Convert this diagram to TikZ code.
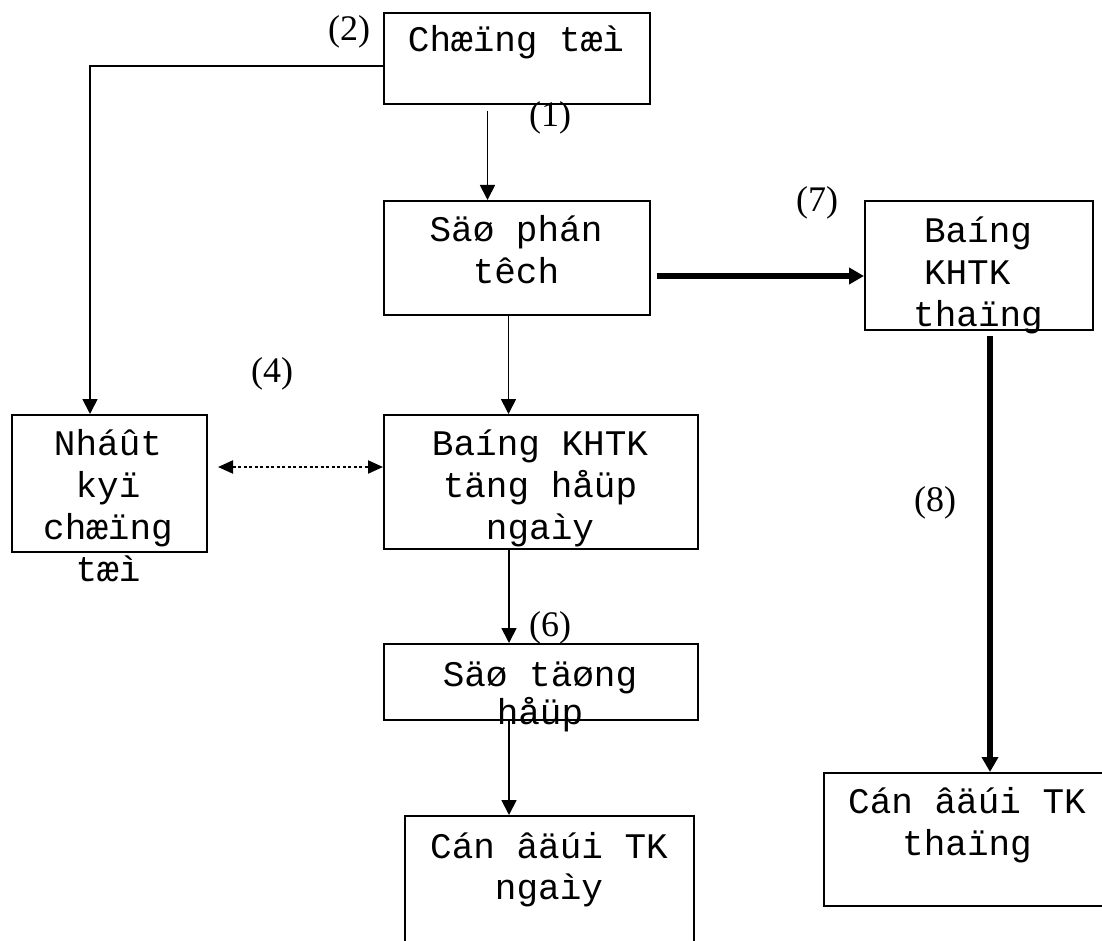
\documentclass[tikz,border=0pt]{standalone}
\usepackage{fontspec}
\newfontfamily\boxfont{Liberation Mono}
\newfontfamily\labfont{Liberation Serif}
\usetikzlibrary{arrows.meta}
\begin{document}
\begin{tikzpicture}[x=1pt,y=-1pt,
  box/.style={draw, line width=2pt, inner sep=0pt, anchor=north west},
  txt/.style={anchor=base, inner sep=0pt, font=\boxfont\fontsize{36}{42}\selectfont},
  lab/.style={inner sep=0pt, font=\labfont\fontsize{36}{40}\selectfont},
  thinarr/.style={line width=1.8pt, -{Triangle[length=15pt,width=15pt]}},
  thickarr/.style={line width=6pt, -{Triangle[length=15pt,width=16pt]}},
  dotarr/.style={line width=2pt, dash pattern=on 3pt off 2.5pt, {Triangle[length=15pt,width=13pt]}-{Triangle[length=15pt,width=13pt]}}]
\path[use as bounding box, fill=white] (0,0) rectangle (1102,941);

% boxes
\node[box, minimum width=266pt, minimum height=91pt]  (b1) at (383,12) {};
\node[box, minimum width=266pt, minimum height=114pt] (b2) at (383,200) {};
\node[box, minimum width=228pt, minimum height=129pt] (b3) at (864,200) {};
\node[box, minimum width=195pt, minimum height=137pt] (b4) at (11,414) {};
\node[box, minimum width=314pt, minimum height=134pt] (b5) at (383,414) {};
\node[box, minimum width=314pt, minimum height=76pt]  (b6) at (383,643) {};
\node[box, minimum width=289pt, minimum height=200pt] (b7) at (404,815) {};
\node[box, minimum width=290pt, minimum height=133pt] (b8) at (823,772) {};

% texts
\node[txt] (t1) at (516,52)  {\parbox[t]{400pt}{\centering Chæïng tæì}};
\node[txt] (t2) at (516,241) {\parbox[t]{400pt}{\centering Säø phán\\têch}};
\node[txt] (t3) at (978,243) {\parbox[t]{400pt}{\centering Baíng\\KHTK\hphantom{K}\\thaïng}};
\node[txt] (t4) at (108,455) {\parbox[t]{400pt}{\centering Nháût\\kyï\\chæïng\\tæì}};
\node[txt] (t5) at (540,455) {\parbox[t]{400pt}{\centering Baíng KHTK\\täng håüp\\ngaìy}};
\node[txt] (t6) at (540,686) {\parbox[t]{400pt}{\baselineskip=38pt\centering Säø täøng\\håüp}};
\node[txt] (t7) at (549,858) {\parbox[t]{400pt}{\baselineskip=41pt\centering Cán âäúi TK\\ngaìy}};
\node[txt] (t8) at (967,813) {\parbox[t]{400pt}{\centering Cán âäúi TK\\thaïng}};

% labels
\node[lab] (l2) at (349,32)  {(2)};
\node[lab] (l1) at (550,118) {(1)};
\node[lab] (l4) at (272,374) {(4)};
\node[lab] (l6) at (550,628) {(6)};
\node[lab] (l7) at (817,203) {(7)};
\node[lab] (l8) at (935,503) {(8)};

% connectors
\draw[thinarr] ([xshift=104.5pt,yshift=-6pt]b1.south west) -- ([xshift=104.5pt]b2.north west);
\draw[thinarr] ([yshift=-54pt]b1.north west) -| ([xshift=79pt]b4.north west);
\draw[thinarr] ([xshift=125.5pt]b2.south west) -- ([xshift=125.5pt]b5.north west);
\draw[dotarr] ([xshift=10pt,yshift=-53pt]b4.north east) -- ([yshift=-53pt]b5.north west);
\draw[thinarr] ([xshift=126pt]b5.south west) -- ([xshift=126pt]b6.north west);
\draw[thinarr] ([xshift=126pt]b6.south west) -- ([xshift=105pt]b7.north west);
\draw[thickarr] ([xshift=5.5pt,yshift=-76pt]b2.north east) -- ([yshift=-76pt]b3.north west);
\draw[thickarr] ([xshift=126pt,yshift=-5pt]b3.south west) -- ([xshift=167pt]b8.north west);
\end{tikzpicture}
\end{document}
